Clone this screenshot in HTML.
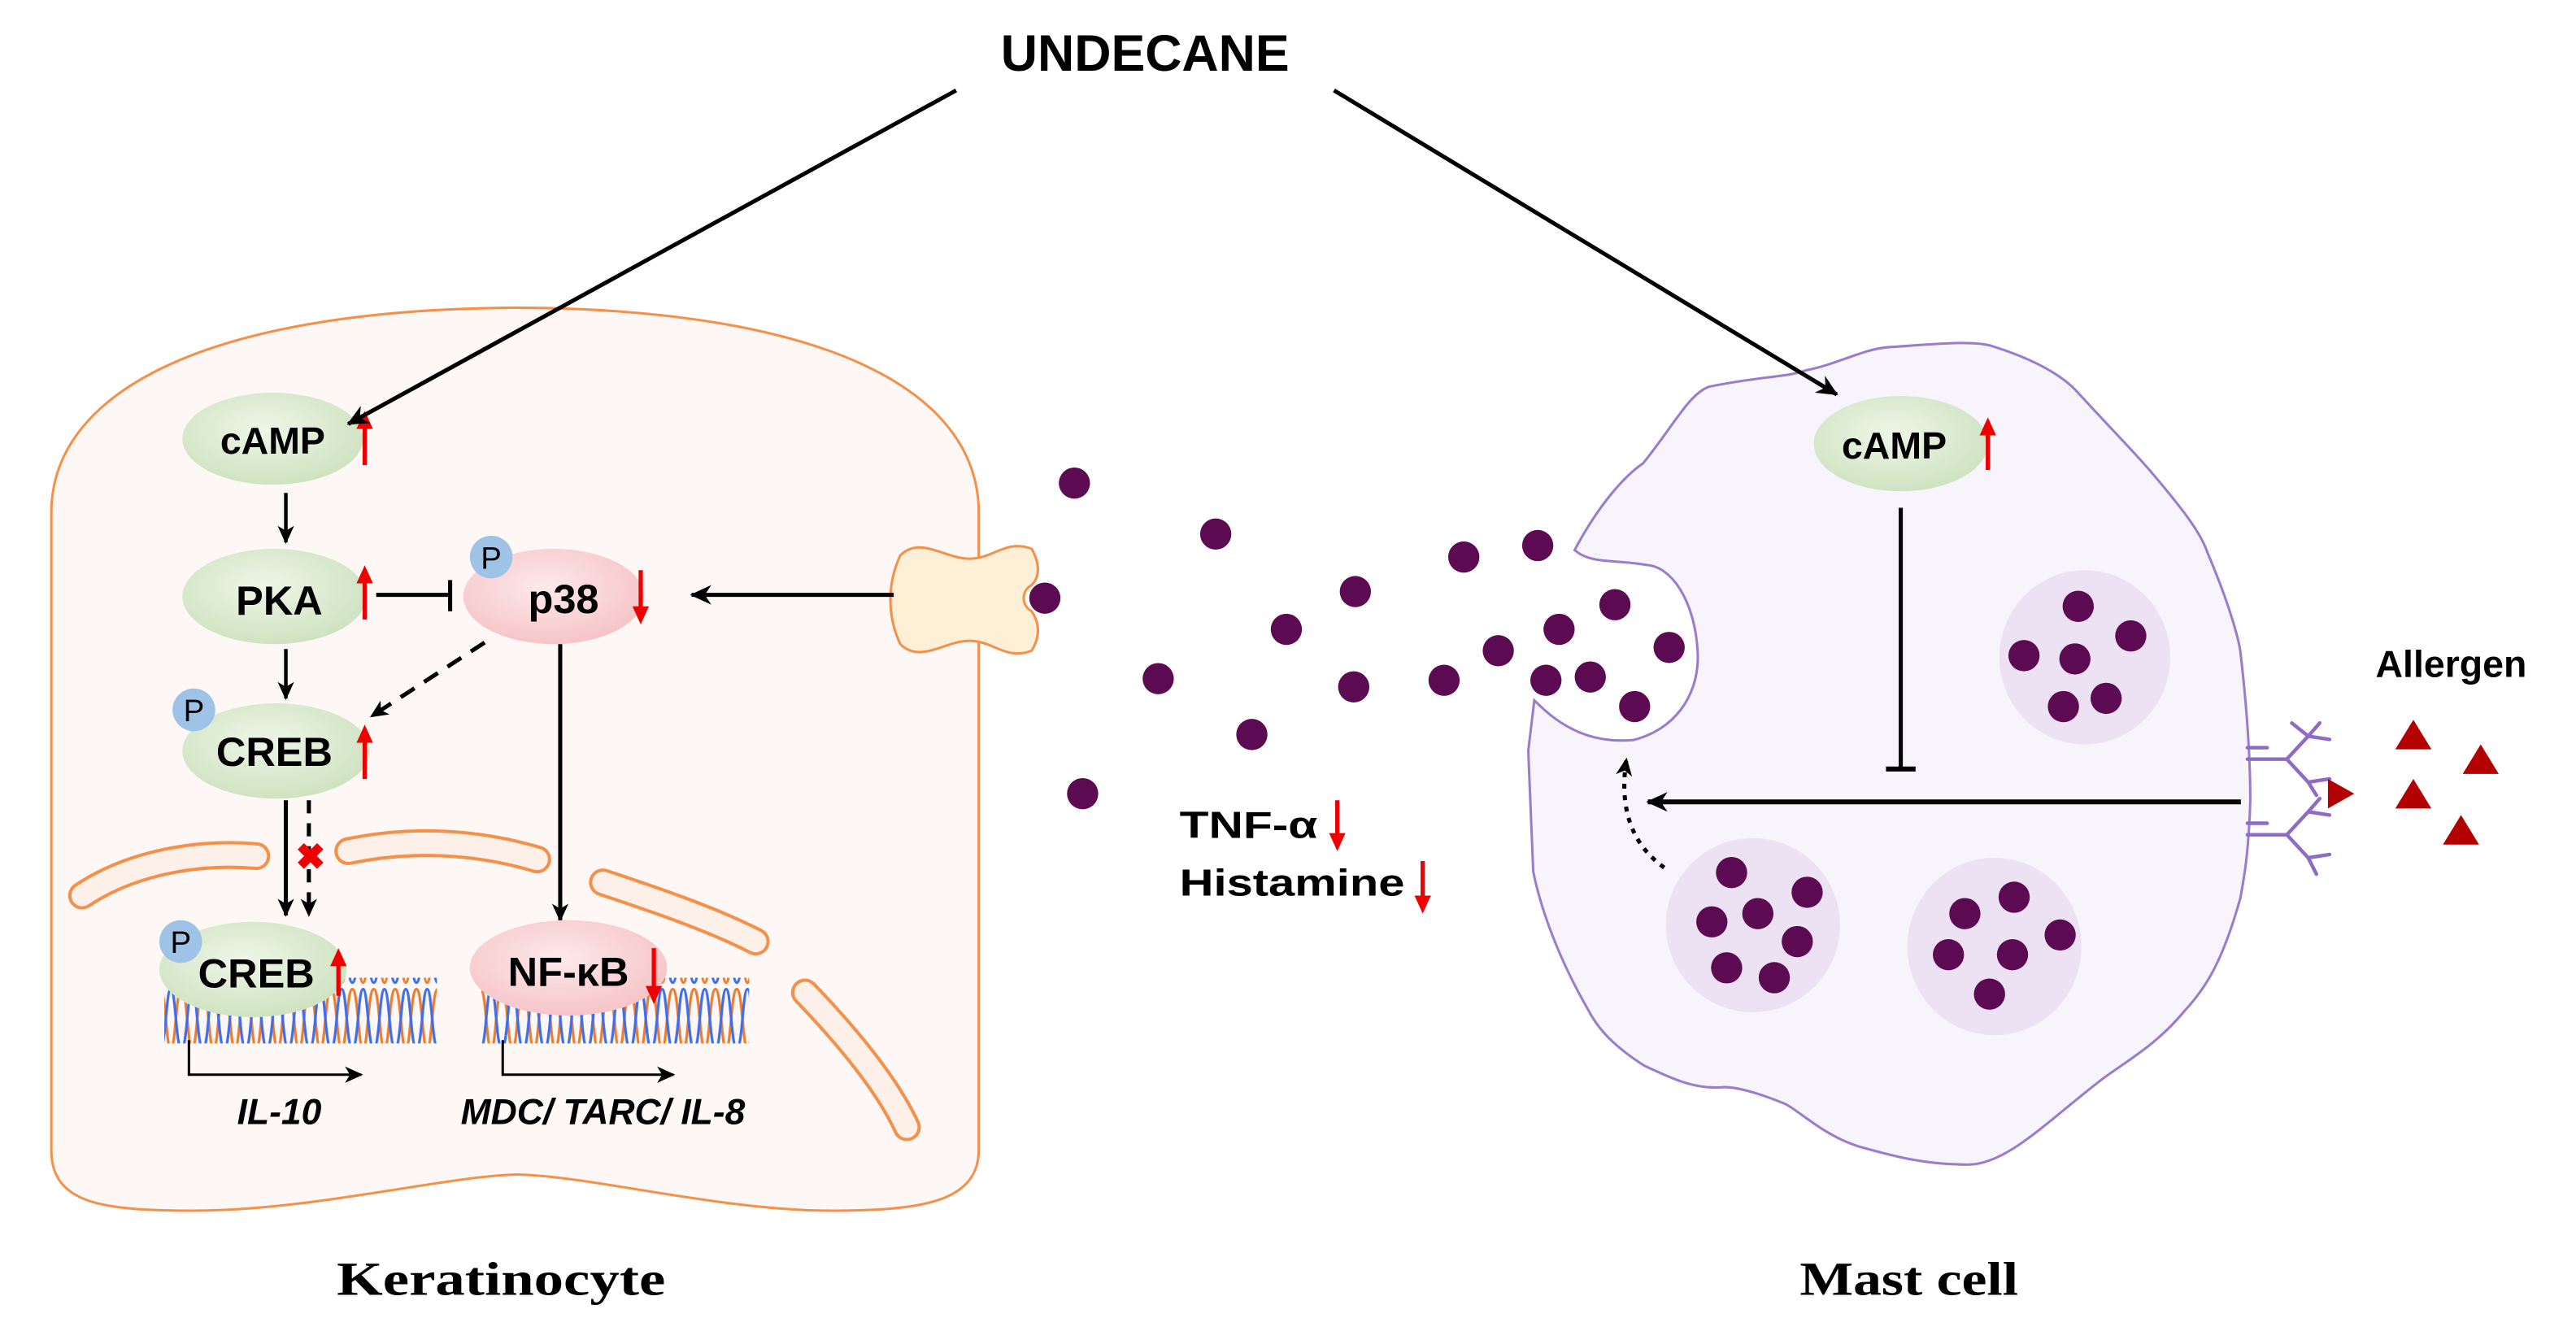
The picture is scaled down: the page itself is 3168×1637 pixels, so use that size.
<!DOCTYPE html>
<html><head><meta charset="utf-8"><style>
html,body{margin:0;padding:0;background:#fff;}
svg{display:block;}
text{font-family:"Liberation Sans",sans-serif;font-weight:bold;}
</style></head><body>
<svg width="3168" height="1637" viewBox="0 0 1568 810" preserveAspectRatio="none" xmlns="http://www.w3.org/2000/svg">
<defs>
<radialGradient id="gr" cx="45%" cy="40%" r="60%"><stop offset="0" stop-color="#eef6e8"/><stop offset="1" stop-color="#cfe3c1"/></radialGradient>
<radialGradient id="pk" cx="45%" cy="40%" r="60%"><stop offset="0" stop-color="#fde9ea"/><stop offset="1" stop-color="#f6c5c8"/></radialGradient>
<pattern id="dna" width="13" height="40" patternUnits="userSpaceOnUse">
<path d="M0,38 C3,38 3,2 6.5,2 C10,2 10,38 13,38" fill="none" stroke="#f07c2a" stroke-width="1.6"/>
<path d="M0,2 C3,2 3,38 6.5,38 C10,38 10,2 13,2" fill="none" stroke="#3d6ef0" stroke-width="1.6"/>
</pattern>
<marker id="ah" markerUnits="userSpaceOnUse" markerWidth="14" markerHeight="14" refX="12" refY="7" orient="auto"><path d="M0,1 L13,7 L0,13 L4,7 Z" fill="#000"/></marker>
<marker id="ahs" markerUnits="userSpaceOnUse" markerWidth="12" markerHeight="12" refX="10" refY="6" orient="auto"><path d="M0,1 L11,6 L0,11 L3,6 Z" fill="#000"/></marker>
</defs>

<!-- keratinocyte -->
<path d="M35,312 C35,240 130,192 315,191 C500,192 592,240 592,312 L592,700 C592,728 560,733 505,733 C440,733 360,712 315,711 C270,712 190,733 118,733 C60,733 35,728 35,700 Z" fill="#fdf8f5" stroke="#f5904a" stroke-width="9"/>
<path d="M35,312 C35,240 130,192 315,191 C500,192 592,240 592,312 L592,700 C592,728 560,733 505,733 C440,733 360,712 315,711 C270,712 190,733 118,733 C60,733 35,728 35,700 Z" fill="#fdf8f5" stroke="#fdf8f5" stroke-width="6"/>

<!-- nuclear envelope pieces -->
<g fill="none" stroke-linecap="round">
<path d="M50,545 C80,525 120,518 156,521" stroke="#f5904a" stroke-width="17"/>
<path d="M50,545 C80,525 120,518 156,521" stroke="#fdf0e8" stroke-width="13"/>
<path d="M212,518 C250,510 290,512 327,523" stroke="#f5904a" stroke-width="17"/>
<path d="M212,518 C250,510 290,512 327,523" stroke="#fdf0e8" stroke-width="13"/>
<path d="M367,537 C400,548 435,560 460,573" stroke="#f5904a" stroke-width="17"/>
<path d="M367,537 C400,548 435,560 460,573" stroke="#fdf0e8" stroke-width="13"/>
<path d="M490,604 C515,630 540,660 552,686" stroke="#f5904a" stroke-width="17"/>
<path d="M490,604 C515,630 540,660 552,686" stroke="#fdf0e8" stroke-width="13"/>
</g>

<!-- receptor -->
<path d="M548,338 C560,326 575,340 590,340 C605,340 612,328 628,334 C634,345 632,352 628,356 A9,9 0 0 0 628,372 C632,378 634,386 628,396 C612,402 605,390 590,390 C575,390 560,404 548,392 C540,375 540,355 548,338 Z" fill="#fdf0d6" stroke="#f5904a" stroke-width="1.5"/>
<line x1="544" y1="362" x2="421" y2="362" stroke="#000" stroke-width="2.5" marker-end="url(#ah)"/>

<!-- nodes -->
<ellipse cx="166" cy="267" rx="55" ry="28" fill="url(#gr)"/>
<text x="166" y="276" font-size="23" text-anchor="middle">cAMP</text>
<line x1="174" y1="300" x2="174" y2="330" stroke="#000" stroke-width="2.2" marker-end="url(#ahs)"/>

<ellipse cx="167" cy="363" rx="56" ry="29" fill="url(#gr)"/>
<text x="170" y="374" font-size="25" text-anchor="middle">PKA</text>
<line x1="229" y1="362" x2="274" y2="362" stroke="#000" stroke-width="2.5"/>
<line x1="274" y1="353" x2="274" y2="372" stroke="#000" stroke-width="2.5"/>

<ellipse cx="337" cy="363" rx="55" ry="29" fill="url(#pk)"/>
<circle cx="299" cy="339" r="13" fill="#9fc3e6"/>
<text x="299" y="346" font-size="19" text-anchor="middle" style="font-weight:normal">P</text>
<text x="343" y="373" font-size="25" text-anchor="middle">p38</text>

<line x1="174" y1="395" x2="174" y2="425" stroke="#000" stroke-width="2.2" marker-end="url(#ahs)"/>
<line x1="295" y1="391" x2="226" y2="436" stroke="#000" stroke-width="2.5" stroke-dasharray="10,7" marker-end="url(#ahs)"/>
<line x1="341" y1="392" x2="341" y2="560" stroke="#000" stroke-width="2.5" marker-end="url(#ahs)"/>

<ellipse cx="168" cy="457" rx="57" ry="29" fill="url(#gr)"/>
<circle cx="118" cy="432" r="13" fill="#9fc3e6"/>
<text x="118" y="439" font-size="19" text-anchor="middle" style="font-weight:normal">P</text>
<text x="167" y="466" font-size="25" text-anchor="middle">CREB</text>

<line x1="174" y1="487" x2="174" y2="557" stroke="#000" stroke-width="2.5" marker-end="url(#ahs)"/>
<line x1="188" y1="487" x2="188" y2="557" stroke="#000" stroke-width="2.5" stroke-dasharray="8,6" marker-end="url(#ahs)"/>
<text x="189" y="529" font-size="22" fill="#e00" text-anchor="middle">✖</text>

<!-- DNA -->
<rect x="100" y="595" width="166" height="40" fill="url(#dna)"/>
<rect x="293" y="595" width="163" height="40" fill="url(#dna)"/>

<ellipse cx="154" cy="590" rx="57" ry="29" fill="url(#gr)"/>
<circle cx="110" cy="573" r="13" fill="#9fc3e6"/>
<text x="110" y="580" font-size="19" text-anchor="middle" style="font-weight:normal">P</text>
<text x="156" y="601" font-size="25" text-anchor="middle">CREB</text>

<ellipse cx="346" cy="589" rx="60" ry="29" fill="url(#pk)"/>
<text x="346" y="600" font-size="25" text-anchor="middle">NF-κB</text>

<polyline points="115,633 115,654 220,654" fill="none" stroke="#000" stroke-width="1.5" marker-end="url(#ahs)"/>
<polyline points="306,633 306,654 410,654" fill="none" stroke="#000" stroke-width="1.5" marker-end="url(#ahs)"/>
<text x="170" y="684" font-size="22" font-style="italic" text-anchor="middle">IL-10</text>
<text x="367" y="684" font-size="22" font-style="italic" text-anchor="middle">MDC/ TARC/ IL-8</text>

<!-- mast cell -->
<path d="M962,334 C975,310 990,292 1002,284 C1020,262 1030,242 1041,238 C1070,232 1090,232 1100,228 C1120,224 1135,215 1150,214 C1180,212 1200,210 1211,213 C1240,222 1255,232 1263,241 C1285,265 1300,280 1309,291 C1325,310 1337,325 1341,337 C1355,370 1360,390 1361,397 C1366,440 1367,470 1367,487 C1366,520 1363,535 1361,546 C1350,585 1340,600 1328,613 C1310,635 1290,645 1276,656 C1245,680 1220,706 1198,706 C1170,706 1150,700 1132,695 C1110,688 1095,672 1087,669 C1070,662 1055,658 1047,659 C1030,660 1015,652 1002,646 C985,635 975,625 969,613 C950,580 940,550 936,530 L933,457 L936,432 C955,450 975,455 995,453 C1025,445 1038,420 1036,395 C1034,365 1020,342 1002,341 C985,338 970,340 962,334 Z" fill="#f8f4fc" stroke="#9a7ccc" stroke-width="7"/>
<path d="M962,334 C975,310 990,292 1002,284 C1020,262 1030,242 1041,238 C1070,232 1090,232 1100,228 C1120,224 1135,215 1150,214 C1180,212 1200,210 1211,213 C1240,222 1255,232 1263,241 C1285,265 1300,280 1309,291 C1325,310 1337,325 1341,337 C1355,370 1360,390 1361,397 C1366,440 1367,470 1367,487 C1366,520 1363,535 1361,546 C1350,585 1340,600 1328,613 C1310,635 1290,645 1276,656 C1245,680 1220,706 1198,706 C1170,706 1150,700 1132,695 C1110,688 1095,672 1087,669 C1070,662 1055,658 1047,659 C1030,660 1015,652 1002,646 C985,635 975,625 969,613 C950,580 940,550 936,530 L933,457 L936,432 C955,450 975,455 995,453 C1025,445 1038,420 1036,395 C1034,365 1020,342 1002,341 C985,338 970,340 962,334 Z" fill="#f8f4fc" stroke="#f8f4fc" stroke-width="4"/>

<ellipse cx="1269" cy="400" rx="52" ry="53" fill="#ece2f4"/>
<ellipse cx="1067" cy="563" rx="53" ry="53" fill="#ece2f4"/>
<ellipse cx="1214" cy="576" rx="53" ry="54" fill="#ece2f4"/>

<g fill="#5c0a52">
<circle cx="1265" cy="369" r="9.5"/><circle cx="1297" cy="387" r="9.5"/><circle cx="1232" cy="399" r="9.5"/><circle cx="1263" cy="401" r="9.5"/><circle cx="1256" cy="430" r="9.5"/><circle cx="1282" cy="425" r="9.5"/>
<circle cx="1054" cy="531" r="9.5"/><circle cx="1100" cy="543" r="9.5"/><circle cx="1042" cy="561" r="9.5"/><circle cx="1070" cy="556" r="9.5"/><circle cx="1094" cy="573" r="9.5"/><circle cx="1051" cy="589" r="9.5"/><circle cx="1080" cy="595" r="9.5"/>
<circle cx="1226" cy="546" r="9.5"/><circle cx="1196" cy="556" r="9.5"/><circle cx="1254" cy="569" r="9.5"/><circle cx="1186" cy="581" r="9.5"/><circle cx="1225" cy="581" r="9.5"/><circle cx="1211" cy="605" r="9.5"/>
<circle cx="654" cy="294" r="9.5"/><circle cx="740" cy="325" r="9.5"/><circle cx="825" cy="360" r="9.5"/><circle cx="891" cy="339" r="9.5"/><circle cx="936" cy="332" r="9.5"/><circle cx="783" cy="383" r="9.5"/><circle cx="705" cy="413" r="9.5"/><circle cx="824" cy="418" r="9.5"/><circle cx="879" cy="414" r="9.5"/><circle cx="912" cy="396" r="9.5"/><circle cx="949" cy="383" r="9.5"/><circle cx="983" cy="368" r="9.5"/><circle cx="1016" cy="394" r="9.5"/><circle cx="941" cy="414" r="9.5"/><circle cx="968" cy="412" r="9.5"/><circle cx="995" cy="430" r="9.5"/><circle cx="762" cy="447" r="9.5"/><circle cx="659" cy="483" r="9.5"/><circle cx="636" cy="364" r="9.5"/>
</g>

<ellipse cx="1157" cy="270" rx="53" ry="29" fill="url(#gr)"/>
<text x="1153" y="279" font-size="23" text-anchor="middle">cAMP</text>

<line x1="1157" y1="309" x2="1157" y2="468" stroke="#000" stroke-width="2.5"/>
<line x1="1148" y1="468" x2="1166" y2="468" stroke="#000" stroke-width="3"/>
<line x1="1364" y1="488" x2="1003" y2="488" stroke="#000" stroke-width="3" marker-end="url(#ah)"/>
<path d="M1013,528 C995,515 985,495 990,462" fill="none" stroke="#000" stroke-width="2.5" stroke-dasharray="3,4" marker-end="url(#ahs)"/>

<!-- IgE receptors -->
<g fill="none" stroke="#8e6cc4" stroke-width="2.2" stroke-linecap="round">
<path d="M1368,462 L1392,462 L1405,448 L1412,440 M1405,448 L1418,450"/>
<path d="M1392,462 L1405,476 L1418,474 M1405,476 L1410,484"/>
<path d="M1395,440 L1405,448"/>
<path d="M1368,508 L1392,508 L1405,494 L1412,486 M1405,494 L1418,496"/>
<path d="M1392,508 L1405,522 L1418,520 M1405,522 L1410,532"/>
<path d="M1368,455 L1380,455 M1368,501 L1380,501"/>
</g>

<!-- allergens -->
<g fill="#b30000">
<polygon points="1469,438 1480,456 1458,456"/>
<polygon points="1510,453 1521,471 1499,471"/>
<polygon points="1417,474 1433,483 1417,492"/>
<polygon points="1469,474 1480,492 1458,492"/>
<polygon points="1498,496 1509,514 1487,514"/>
</g>
<text x="1492" y="412" font-size="23" text-anchor="middle">Allergen</text>

<text x="718" y="510" font-size="23" textLength="84" lengthAdjust="spacingAndGlyphs">TNF-α</text>
<text x="718" y="545" font-size="23" textLength="137" lengthAdjust="spacingAndGlyphs">Histamine</text>

<!-- red arrows -->
<g stroke="#e00" stroke-width="2.6" fill="none">
<line x1="222" y1="283" x2="222" y2="256"/>
<line x1="222" y1="377" x2="222" y2="350"/>
<line x1="390" y1="347" x2="390" y2="372"/>
<line x1="222" y1="474" x2="222" y2="447"/>
<line x1="206" y1="606" x2="206" y2="583"/>
<line x1="398" y1="577" x2="398" y2="602"/>
<line x1="1210" y1="286" x2="1210" y2="260"/>
<line x1="814" y1="487" x2="814" y2="510"/>
<line x1="866" y1="524" x2="866" y2="548"/>
</g>
<g fill="#e00">
<polygon points="217,261 222,250 227,261"/>
<polygon points="217,355 222,344 227,355"/>
<polygon points="385,369 390,380 395,369"/>
<polygon points="217,452 222,441 227,452"/>
<polygon points="201,588 206,577 211,588"/>
<polygon points="393,600 398,611 403,600"/>
<polygon points="1205,265 1210,254 1215,265"/>
<polygon points="809,507 814,518 819,507"/>
<polygon points="861,545 866,556 871,545"/>
</g>

<!-- UNDECANE arrows on top -->
<text x="697" y="43" font-size="31" text-anchor="middle">UNDECANE</text>
<line x1="582" y1="55" x2="212" y2="258" stroke="#000" stroke-width="2.5" marker-end="url(#ah)"/>
<line x1="812" y1="55" x2="1118" y2="240" stroke="#000" stroke-width="2.5" marker-end="url(#ah)"/>

<text x="305" y="788" font-size="29" text-anchor="middle" textLength="200" lengthAdjust="spacingAndGlyphs" style="font-family:'Liberation Serif',serif">Keratinocyte</text>
<text x="1162" y="788" font-size="29" text-anchor="middle" textLength="133" lengthAdjust="spacingAndGlyphs" style="font-family:'Liberation Serif',serif">Mast cell</text>
</svg>
</body></html>
